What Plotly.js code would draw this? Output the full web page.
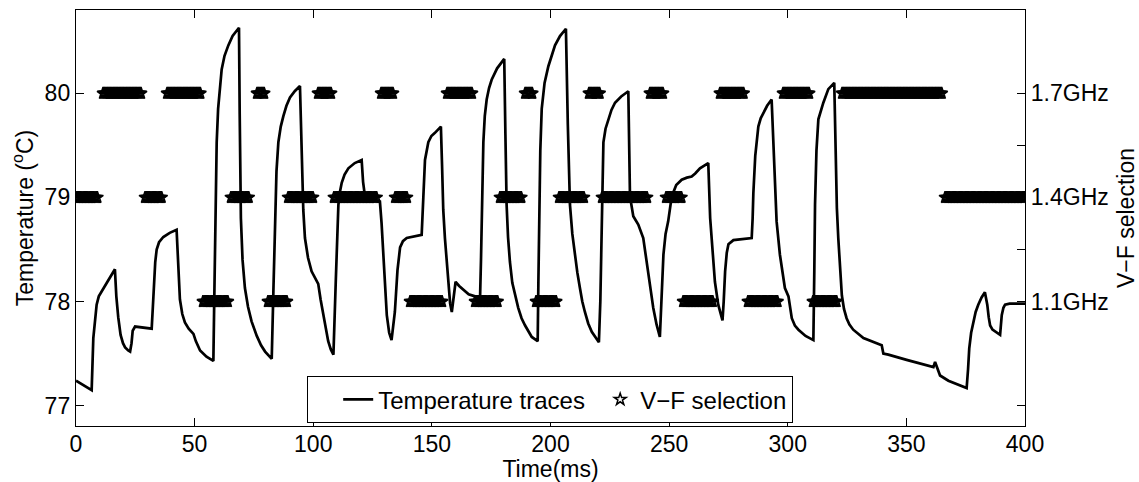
<!DOCTYPE html>
<html>
<head>
<meta charset="utf-8">
<script src="https://cdn.plot.ly/plotly-3.0.1.min.js"></script>
<style>
  html, body { margin: 0; padding: 0; background: #fff; }
  #chart { width: 1139px; height: 482px; }
</style>
</head>
<body>
<div id="chart"></div>
<script>
// Temperature trace (ms, degrees C)
const tempTime = [
  0, 6.6, 7.3, 8.0, 8.7, 9.6, 10.8, 13.5, 16.4,
  17.0, 17.8, 18.8, 19.8, 20.7, 22.0, 22.8,
  23.4, 23.9, 24.9, 31.9,
  32.4, 32.9, 33.4, 34.0, 35.0, 36.8, 39.5, 42.4,
  42.9, 43.8, 44.8, 45.9, 47.5, 48.8, 49.5, 50.5, 52.3, 55.0, 57.9,
  58.2, 58.6, 58.9, 59.3, 59.9, 60.6, 61.4, 62.6, 64.2, 66.0, 67.5, 68.7,
  69.0, 69.5, 70.2, 71.2, 72.5, 74.0, 76.2, 78.0, 79.7, 82.5,
  83.2, 83.9, 84.5, 85.3, 86.3, 87.4, 88.7, 90.2, 92.2, 94.4,
  95.1, 95.8, 96.5, 97.8, 99.3, 100.8, 102.1, 103.1, 104.2, 105.2, 106.3, 107.4, 108.5,
  109.5, 110.6, 111.3, 112.0, 113.2, 114.8, 117.5, 120.4,
  121.0, 121.8, 125.0, 128.1, 128.8, 129.5, 130.2, 131.0, 132.0, 133.0,
  134.4, 135.5, 136.6, 137.8, 139.4, 145.7,
  146.4, 147.1, 148.5, 149.8, 151.3, 153.8,
  154.3, 154.8, 155.5, 156.3, 157.0, 157.7, 158.4, 159.3, 160.0, 161.5, 163.3, 165.5, 168.2, 170.3,
  170.7, 171.0, 171.7, 172.3, 173.1, 174.1, 175.2, 177.5, 180.5,
  181.0, 181.5, 182.1, 182.9, 183.9, 185.0, 186.4, 187.8, 189.3, 192.1, 194.6,
  194.9, 195.2, 195.7, 196.3, 197.5, 199.1, 200.5, 201.9, 204.0, 206.5,
  207.3, 208.2, 209.2, 210.3, 211.3, 212.4, 213.4, 214.5, 215.9, 217.4, 219.0, 220.4,
  221.0, 221.6, 222.3, 223.2, 224.4, 225.7, 227.2, 229.8, 232.8,
  233.5, 234.9, 237.0, 239.1, 240.2, 241.2, 242.3, 243.3, 244.7, 246.1,
  246.9, 247.6, 248.5, 249.6, 251.1, 253.0, 255.3, 257.5, 259.5, 261.0, 263.0, 266.5,
  267.3, 268.2, 269.3, 270.7, 271.6, 272.5,
  273.0, 273.6, 274.3, 275.0, 277.1, 284.8,
  285.2, 285.5, 286.3, 287.6, 288.6, 289.7, 291.3, 293.2,
  294.3, 295.3, 296.7, 297.8, 298.8, 300.3, 301.0, 301.7, 303.0, 304.5, 307.5, 310.8,
  311.2, 311.5, 312.1, 312.9, 315.0, 317.1, 319.6,
  320.3, 320.7, 321.3, 322.0, 322.8, 323.7, 324.8, 326.0, 327.6, 331.9, 336.1, 339.6,
  340.3, 342.4, 350.1, 357.1, 361.4, 362.1, 364.2, 367.7, 375.4,
  376.0, 376.5, 377.3, 378.2, 379.2, 380.3, 381.7, 383.1,
  384.1, 384.7, 385.3, 386.3, 387.4, 389.5, 390.2, 390.9, 391.6, 393.5, 400
];
const tempValue = [
  77.24, 77.15, 77.65, 77.85, 77.97, 78.05, 78.10, 78.20, 78.31,
  78.05, 77.85, 77.68, 77.60, 77.56, 77.53, 77.52,
  77.60, 77.72, 77.76, 77.74,
  77.95, 78.21, 78.38, 78.50, 78.57, 78.62, 78.66, 78.69,
  78.40, 78.02, 77.88, 77.80, 77.74, 77.71, 77.69, 77.62, 77.53, 77.47, 77.43,
  77.90, 78.50, 79.05, 79.53, 79.85, 80.07, 80.23, 80.36, 80.46, 80.55, 80.60, 80.63,
  79.80, 78.80, 78.40, 78.13, 77.95, 77.81, 77.67, 77.58, 77.52, 77.45,
  78.10, 78.82, 79.25, 79.53, 79.68, 79.78, 79.88, 79.96, 80.02, 80.07,
  79.50, 78.88, 78.61, 78.42, 78.29, 78.22, 78.17, 78.02, 77.87, 77.73, 77.62, 77.54, 77.49,
  78.20, 78.93, 79.06, 79.14, 79.22, 79.28, 79.33, 79.36,
  79.15, 79.01, 78.98, 78.96, 78.75, 78.45, 78.12, 77.87, 77.70, 77.63,
  77.90, 78.30, 78.52, 78.58, 78.61, 78.64,
  79.00, 79.36, 79.53, 79.59, 79.62, 79.68,
  79.30, 78.88, 78.61, 78.35, 78.13, 77.98, 77.90, 78.05, 78.19, 78.15, 78.11, 78.07, 78.05, 78.03,
  78.40, 78.88, 79.53, 79.78, 79.94, 80.05, 80.13, 80.24, 80.33,
  79.60, 78.93, 78.62, 78.38, 78.18, 78.06, 77.94, 77.84, 77.77, 77.66, 77.62,
  78.20, 78.88, 79.45, 79.85, 80.10, 80.26, 80.37, 80.46, 80.55, 80.62,
  79.70, 78.93, 78.65, 78.45, 78.28, 78.13, 78.00, 77.90, 77.79, 77.71, 77.65, 77.61,
  78.00, 78.60, 79.53, 79.66, 79.75, 79.84, 79.91, 79.97, 80.02,
  79.01, 78.82, 78.74, 78.61, 78.45, 78.29, 78.10, 77.94, 77.78, 77.66,
  78.10, 78.45, 78.65, 78.77, 79.01, 79.12, 79.17, 79.19, 79.20, 79.23, 79.28, 79.33,
  78.80, 78.50, 78.19, 77.97, 77.88, 77.82,
  78.00, 78.29, 78.47, 78.55, 78.59, 78.61,
  78.80, 79.04, 79.40, 79.68, 79.76, 79.81, 79.88, 79.94,
  79.40, 78.77, 78.45, 78.27, 78.13, 78.05, 77.93, 77.84, 77.77, 77.73, 77.67, 77.63,
  78.30, 78.93, 79.45, 79.75, 79.91, 80.04, 80.10,
  79.20, 78.90, 78.61, 78.30, 78.06, 77.93, 77.84, 77.78, 77.73, 77.65, 77.61, 77.58,
  77.50, 77.49, 77.44, 77.40, 77.37, 77.42, 77.29, 77.24, 77.17,
  77.35, 77.55, 77.70, 77.81, 77.90, 77.97, 78.04, 78.09,
  77.97, 77.85, 77.77, 77.73, 77.71, 77.68, 77.87, 77.94, 77.97, 77.98, 77.98
];

// V-F selection schedule: each interval holds one frequency level (GHz)
const vfStart = [0, 11.4, 29.1, 38.4, 53.5, 65.3, 76.3, 80.9, 89.4, 102.0, 108.7, 128.6, 134.5, 140.8, 156.4,
  168.2, 178.7, 189.3, 193.9, 203.6, 216.2, 221.7, 241.9, 248.7, 255.9, 271.4, 283.2, 298.0, 310.6, 322.9, 366.3];
const vfEnd = [9.3, 27.4, 36.2, 52.7, 64.1, 72.9, 79.7, 88.9, 100.3, 107.9, 126.9, 133.6, 139.9, 154.7, 166.9,
  177.9, 188.0, 192.6, 202.7, 214.5, 220.9, 240.7, 247.4, 255.4, 268.5, 281.6, 295.9, 309.4, 320.8, 365.0, 400];
const vfLevel = [1.4, 1.7, 1.4, 1.7, 1.1, 1.4, 1.7, 1.1, 1.4, 1.7, 1.4, 1.7, 1.4, 1.1, 1.7,
  1.1, 1.4, 1.7, 1.1, 1.4, 1.7, 1.4, 1.7, 1.4, 1.1, 1.7, 1.1, 1.7, 1.1, 1.7, 1.4];

// Axis ticks
const freqTicks = [1.1, 1.4, 1.7];
const freqTickText = ['1.1GHz', '1.4GHz', '1.7GHz'];
const freqMinorTicks = [1.25, 1.55];
const tempTicks = [77, 78, 79, 80];
const timeTicks = [0, 50, 100, 150, 200, 250, 300, 350, 400];

// The controller logs its selection every 0.5 ms inside each interval
const SAMPLE_MS = 0.5;
const vfTime = [], vfFreq = [];
vfStart.forEach((s, i) => {
  for (let t = s; t <= vfEnd[i] + 1e-9; t += SAMPLE_MS) {
    vfTime.push(+t.toFixed(2));
    vfFreq.push(vfLevel[i]);
  }
});

// Temperature axis range and the matching frequency axis (1.1GHz at 78, 0.3GHz per degree)
const tempRange = [76.805, 80.80];
const toFreq = T => 1.1 + (T - 78) * 0.3;
const freqRange = tempRange.map(toFreq);

const FONT = { family: 'Liberation Sans, Arial, Helvetica, sans-serif', size: 23, color: '#000' };
const LEGEND_FONT = { family: FONT.family, size: 24, color: '#000' };

const traces = [
  {
    x: tempTime, y: tempValue, type: 'scatter', mode: 'lines',
    name: 'Temperature traces', legendwidth: 187,
    line: { color: '#000', width: 2.7 },
    yaxis: 'y'
  },
  {
    x: vfTime, y: vfFreq, type: 'scatter', mode: 'markers',
    name: 'V\u2212F selection', legendwidth: 146,
    marker: { symbol: 'star-open', size: 9, color: '#000', line: { color: '#000', width: 1.5 } },
    yaxis: 'y2'
  }
];

const layout = {
  width: 1139, height: 482,
  margin: { l: 76, r: 114, t: 10, b: 56 },
  paper_bgcolor: '#fff', plot_bgcolor: '#fff',
  font: FONT,
  showlegend: true,
  legend: {
    orientation: 'h',
    x: 0.2434, y: 0.12, xanchor: 'left', yanchor: 'top',
    indentation: 30,
    bgcolor: '#fff', bordercolor: '#000', borderwidth: 1.2,
    font: LEGEND_FONT
  },
  xaxis: {
    range: [0, 400], tickvals: timeTicks,
    ticks: 'inside', ticklen: 8, tickwidth: 1, tickcolor: '#000',
    showline: true, linecolor: '#000', linewidth: 1.2, mirror: 'ticks',
    showgrid: false, zeroline: false,
    tickfont: FONT, ticklabelstandoff: -3,
    title: { text: 'Time(ms)', font: FONT, standoff: 12 }
  },
  yaxis: {
    range: tempRange, tickvals: tempTicks,
    ticks: 'inside', ticklen: 8, tickwidth: 1, tickcolor: '#000',
    showline: true, linecolor: '#000', linewidth: 1.2, mirror: 'ticks',
    showgrid: false, zeroline: false,
    tickfont: FONT,
    title: { text: 'Temperature (<sup>o</sup>C)', font: FONT, standoff: 4 }
  },
  yaxis2: {
    overlaying: 'y', side: 'right',
    range: freqRange, tickvals: freqTicks, ticktext: freqTickText,
    ticks: 'inside', ticklen: 8, tickwidth: 1, tickcolor: '#000',
    minor: { tickvals: freqMinorTicks, ticks: 'inside', ticklen: 8, tickwidth: 1, tickcolor: '#000', showgrid: false },
    showline: true, linecolor: '#000', linewidth: 1.2,
    showgrid: false, zeroline: false,
    tickfont: FONT,
    title: { text: 'V\u2212F selection', font: FONT, standoff: 12 }
  }
};

Plotly.newPlot('chart', traces, layout, { staticPlot: true, displayModeBar: false });
</script>
</body>
</html>
